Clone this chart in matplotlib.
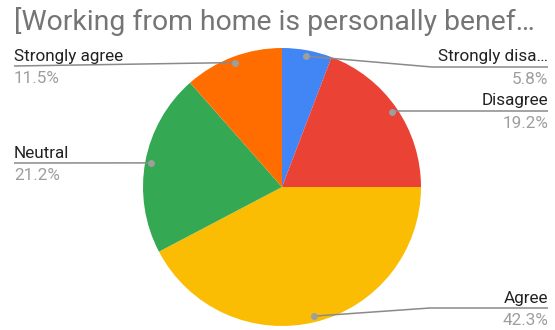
import numpy as np
import matplotlib
matplotlib.use("Agg")
import matplotlib.pyplot as plt

title = "[Working from home is personally benef\u2026"
labels = ["Strongly disa\u2026", "Disagree", "Agree", "Neutral", "Strongly agree"]
shares = [5.8, 19.2, 42.3, 21.2, 11.5]
colors = ["#4285F4", "#EA4335", "#FBBC04", "#34A853", "#FF6D01"]

W, H = 555, 330
fig = plt.figure(figsize=(W / 100, H / 100), dpi=100)
ax = fig.add_axes([0, 0, 1, 1])

cx, cy, R = 282, H - 187, 139
ax.pie(shares, colors=colors, startangle=90, counterclock=False,
       center=(cx, cy), radius=R, frame=True,
       wedgeprops=dict(linewidth=0))
ax.set_xlim(0, W)
ax.set_ylim(0, H)
ax.set_aspect("equal")
ax.axis("off")

# label layout: (side, line y in px from top, elbow x)
layout = {
    "Strongly disa\u2026": ("right", 67, 432),
    "Disagree": ("right", 111, None),
    "Agree": ("right", 308, 430),
    "Neutral": ("left", 163, None),
    "Strongly agree": ("left", 66, None),
}

line_col = "#8a8a8a"
cum = np.cumsum([0] + shares[:-1])
for lab, s, c0 in zip(labels, shares, cum):
    mid = np.deg2rad(90 - (c0 + s / 2) * 3.6)
    px = cx + 0.957 * R * np.cos(mid)
    py = cy + 0.957 * R * np.sin(mid)
    side, ly, elbow = layout[lab]
    ly = H - ly
    if side == "right":
        xe = 548
        xs = [px, elbow, xe] if elbow else [px, xe]
        ys = [py, ly, ly] if elbow else [ly, ly]
        ha, tx = "right", xe
    else:
        xe = 14
        xs = [px, xe]
        ys = [py, ly]
        ha, tx = "left", xe
    ax.plot(xs, ys, color=line_col, lw=1.1, solid_capstyle="butt", zorder=3)
    ax.plot([px], [py], "o", color="#9e9e9e", ms=5, mec="none", zorder=4)
    ax.text(tx, ly + 5.5, lab, ha=ha, va="baseline", fontsize=12.3,
            family="Roboto", color="#222222")
    ax.text(tx, ly - 5, f"{s:.1f}%", ha=ha, va="top", fontsize=12.3,
            family="Roboto", color="#9e9e9e")

fig.text(14 / W, 1 - 30 / H, title, ha="left", va="baseline",
         fontsize=20.4, family="Roboto", color="#757575")

fig.savefig("out.png", dpi=100)
